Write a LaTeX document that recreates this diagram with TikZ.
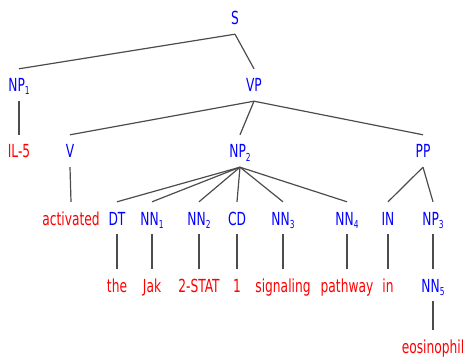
\documentclass[tikz,border=0pt]{standalone}
\usepackage{fontspec}
\setmainfont[FakeStretch=0.68]{DejaVu Sans}
\newcommand{\subs}[1]{\raisebox{-3pt}{\fontsize{11}{11}\selectfont #1}}

\begin{document}
\begin{tikzpicture}[x=1pt, y=-1pt,
    every node/.style={anchor=base, inner xsep=1pt, inner ysep=9pt,
      text height=14pt, text depth=0pt, font=\fontsize{18}{20}\selectfont},
    cat/.style={text=blue},
    word/.style={text=red},
    edge/.style={draw=black!70, line width=1.2pt}]
    \useasboundingbox (0,0) rectangle (468,358);
    % categories
    \node[cat] (s) at (235,25) {S};
    \node[cat] (np1) at (19,92) {NP\subs{1}};
    \node[cat] (vp) at (254,92) {VP};
    \node[word] (il5) at (19,158) {IL-5};
    \node[cat] (v) at (70,158) {V};
    \node[cat] (np2) at (240,158) {NP\subs{2}};
    \node[cat] (pp) at (423,158) {PP};
    \node[word] (activated) at (71,225) {activated};
    \node[cat] (dt) at (117,225) {DT};
    \node[cat] (nn1) at (152,225) {NN\subs{1}};
    \node[cat] (nn2) at (199,225) {NN\subs{2}};
    \node[cat] (cd) at (237,225) {CD};
    \node[cat] (nn3) at (283,225) {NN\subs{3}};
    \node[cat] (nn4) at (347,225) {NN\subs{4}};
    \node[cat] (in) at (388,225) {IN};
    \node[cat] (np3) at (433,225) {NP\subs{3}};
    % words
    \node[word] (the) at (117,292) {the};
    \node[word] (jak) at (152,292) {Jak};
    \node[word] (stat) at (199,292) {2-STAT};
    \node[word] (one) at (237,292) {1};
    \node[word] (signaling) at (283,292) {signaling};
    \node[word] (pathway) at (347,292) {pathway};
    \node[word] (inw) at (388,292) {in};
    \node[cat] (nn5) at (433,292) {NN\subs{5}};
    \node[word] (eosinophil) at (433,353) {eosinophil};
    % branches
    \foreach \a/\b in {s/np1, s/vp, np1/il5, vp/v, vp/np2, vp/pp, v/activated,
        np2/dt, np2/nn1, np2/nn2, np2/cd, np2/nn3, np2/nn4, pp/in, pp/np3,
        dt/the, nn1/jak, nn2/stat, cd/one, nn3/signaling, nn4/pathway,
        in/inw, np3/nn5, nn5/eosinophil}
        \draw[edge] (\a.south) -- (\b.north);
\end{tikzpicture}
\end{document}
